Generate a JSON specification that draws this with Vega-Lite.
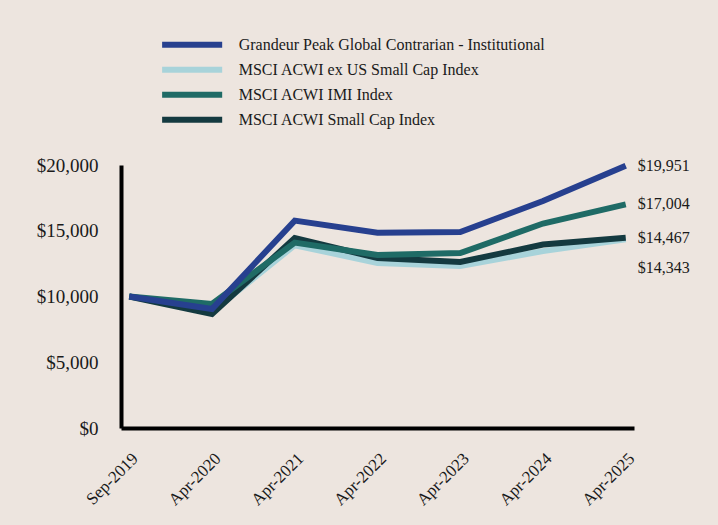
{
  "$schema": "https://vega.github.io/schema/vega-lite/v6.json",
  "width": 513,
  "height": 263,
  "autosize": {"type": "none"},
  "padding": {"left": 121, "top": 165, "right": 84, "bottom": 97},
  "background": "#EDE5DF",
  "config": {
    "font": "Liberation Serif",
    "view": {"stroke": null},
    "axis": {"grid": false, "ticks": false, "domainColor": "#000000", "domainWidth": 4, "labelColor": "#1a1a1a", "labelFont": "Liberation Serif"}
  },
  "data": {
    "values": [
      {"date": "Sep-2019", "series": "MSCI ACWI ex US Small Cap Index", "value": 10000},
      {"date": "Apr-2020", "series": "MSCI ACWI ex US Small Cap Index", "value": 8850},
      {"date": "Apr-2021", "series": "MSCI ACWI ex US Small Cap Index", "value": 13900},
      {"date": "Apr-2022", "series": "MSCI ACWI ex US Small Cap Index", "value": 12550},
      {"date": "Apr-2023", "series": "MSCI ACWI ex US Small Cap Index", "value": 12320},
      {"date": "Apr-2024", "series": "MSCI ACWI ex US Small Cap Index", "value": 13450},
      {"date": "Apr-2025", "series": "MSCI ACWI ex US Small Cap Index", "value": 14343},
      {"date": "Sep-2019", "series": "MSCI ACWI Small Cap Index", "value": 10000},
      {"date": "Apr-2020", "series": "MSCI ACWI Small Cap Index", "value": 8670},
      {"date": "Apr-2021", "series": "MSCI ACWI Small Cap Index", "value": 14450},
      {"date": "Apr-2022", "series": "MSCI ACWI Small Cap Index", "value": 12930},
      {"date": "Apr-2023", "series": "MSCI ACWI Small Cap Index", "value": 12620},
      {"date": "Apr-2024", "series": "MSCI ACWI Small Cap Index", "value": 13950},
      {"date": "Apr-2025", "series": "MSCI ACWI Small Cap Index", "value": 14467},
      {"date": "Sep-2019", "series": "MSCI ACWI IMI Index", "value": 10000},
      {"date": "Apr-2020", "series": "MSCI ACWI IMI Index", "value": 9430},
      {"date": "Apr-2021", "series": "MSCI ACWI IMI Index", "value": 14100},
      {"date": "Apr-2022", "series": "MSCI ACWI IMI Index", "value": 13150},
      {"date": "Apr-2023", "series": "MSCI ACWI IMI Index", "value": 13300},
      {"date": "Apr-2024", "series": "MSCI ACWI IMI Index", "value": 15550},
      {"date": "Apr-2025", "series": "MSCI ACWI IMI Index", "value": 17004},
      {"date": "Sep-2019", "series": "Grandeur Peak Global Contrarian - Institutional", "value": 10000},
      {"date": "Apr-2020", "series": "Grandeur Peak Global Contrarian - Institutional", "value": 9050},
      {"date": "Apr-2021", "series": "Grandeur Peak Global Contrarian - Institutional", "value": 15770},
      {"date": "Apr-2022", "series": "Grandeur Peak Global Contrarian - Institutional", "value": 14850},
      {"date": "Apr-2023", "series": "Grandeur Peak Global Contrarian - Institutional", "value": 14900},
      {"date": "Apr-2024", "series": "Grandeur Peak Global Contrarian - Institutional", "value": 17260},
      {"date": "Apr-2025", "series": "Grandeur Peak Global Contrarian - Institutional", "value": 19951}
    ]
  },
  "encoding": {
    "x": {
      "field": "date", "type": "ordinal", "sort": null,
      "scale": {"type": "point", "padding": 0.1},
      "axis": {"title": null, "labelAngle": -45, "labelAlign": "right", "labelBaseline": "top", "labelPadding": 22, "labelDx": -6, "labelFontSize": 17}
    },
    "y": {
      "field": "value", "type": "quantitative",
      "scale": {"domain": [0, 20000], "nice": false},
      "axis": {"title": null, "values": [0, 5000, 10000, 15000, 20000], "format": "$,.0f", "labelFontSize": 19, "labelPadding": 23}
    }
  },
  "layer": [
    {
      "mark": {"type": "line", "strokeWidth": 6, "strokeJoin": "miter"},
      "encoding": {
        "color": {
          "field": "series", "type": "nominal",
          "scale": {
            "domain": ["Grandeur Peak Global Contrarian - Institutional", "MSCI ACWI ex US Small Cap Index", "MSCI ACWI IMI Index", "MSCI ACWI Small Cap Index"],
            "range": ["#27408F", "#A8D3DA", "#1F6B66", "#143A40"]
          },
          "legend": {
            "title": null, "orient": "none", "legendX": 58.65, "legendY": -132.75,
            "symbolType": "M-3.21,0H3.21", "symbolSize": 350, "symbolStrokeWidth": 6,
            "labelFontSize": 16, "labelFont": "Liberation Serif", "labelColor": "#1a1a1a",
            "labelOffset": 34, "padding": 0, "rowPadding": 0, "labelLimit": 400
          }
        }
      }
    },
    {
      "transform": [{"filter": "datum.date == 'Apr-2025' && datum.series != 'MSCI ACWI ex US Small Cap Index'"}],
      "mark": {"type": "text", "align": "left", "dx": 12, "fontSize": 16, "color": "#1a1a1a"},
      "encoding": {"text": {"field": "value", "type": "quantitative", "format": "$,.0f"}}
    },
    {
      "transform": [{"filter": "datum.date == 'Apr-2025' && datum.series == 'MSCI ACWI ex US Small Cap Index'"}],
      "mark": {"type": "text", "align": "left", "dx": 12, "dy": 29, "fontSize": 16, "color": "#1a1a1a"},
      "encoding": {"text": {"field": "value", "type": "quantitative", "format": "$,.0f"}}
    }
  ]
}
